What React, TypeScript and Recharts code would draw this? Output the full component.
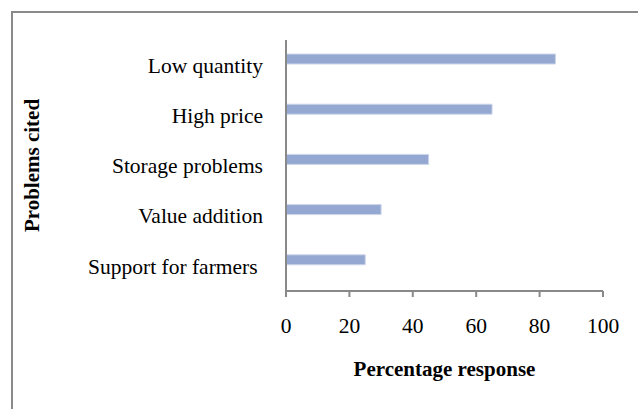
import React from 'react';
import { BarChart, Bar, XAxis, YAxis, Label } from 'recharts';

const categories = ['Low quantity', 'High price', 'Storage problems', 'Value addition', 'Support for farmers '];
const responses = [85, 65, 45, 30, 25];
const xTicks = [0, 20, 40, 60, 80, 100];

const data = categories.map((name, i) => ({ name, response: responses[i], spare: null as number | null }));

const FONT = '"Liberation Serif", "Times New Roman", serif';
const AXIS = '#898989';

export default function App() {
  return (
    <div style={{ position: 'absolute', left: 0, top: 0, width: 638, height: 409, overflow: 'hidden', background: '#fff' }}>
      <div style={{ position: 'absolute', left: 11, top: 11, width: 800, height: 600, border: '2px solid #8a8a8a' }} />
      <div style={{ position: 'absolute', left: 0, top: 0 }}>
        <BarChart
          width={638}
          height={409}
          data={data}
          layout="vertical"
          margin={{ top: 40, right: 35, bottom: 0, left: 0 }}
          barGap={2}
        >
          <XAxis
            type="number"
            domain={[0, 100]}
            ticks={xTicks}
            height={118}
            axisLine={{ stroke: AXIS, strokeWidth: 2 }}
            tickLine={{ stroke: AXIS, strokeWidth: 2 }}
            tickSize={6}
            tickMargin={21}
            tick={{ fill: '#000', fontSize: 21.5, fontFamily: FONT }}
            interval={0}
          >
            <Label
              content={(props: any) => {
                const vb = props.viewBox;
                return (
                  <text
                    x={vb.x + vb.width / 2}
                    y={vb.y + 85}
                    textAnchor="middle"
                    fontFamily={FONT}
                    fontSize={21}
                    fontWeight="bold"
                    fill="#000"
                  >
                    Percentage response
                  </text>
                );
              }}
            />
          </XAxis>
          <YAxis
            type="category"
            dataKey="name"
            width={286}
            axisLine={{ stroke: AXIS, strokeWidth: 2 }}
            tickLine={false}
            tickSize={0}
            tickMargin={23}
            tick={{ fill: '#000', fontSize: 21.5, fontFamily: FONT, style: { whiteSpace: 'pre' } }}
            interval={0}
          >
            <Label
              content={(props: any) => {
                const vb = props.viewBox;
                const cx = 39;
                const cy = vb.y + vb.height / 2;
                return (
                  <text
                    x={cx}
                    y={cy}
                    transform={`rotate(-90 ${cx} ${cy})`}
                    textAnchor="middle"
                    fontFamily={FONT}
                    fontSize={21}
                    fontWeight="bold"
                    fill="#000"
                  >
                    Problems cited
                  </text>
                );
              }}
            />
          </YAxis>
          <Bar dataKey="response" barSize={10} fill="#94A8D2" stroke="#cdd6ea" strokeWidth={1} isAnimationActive={false} />
          <Bar dataKey="spare" barSize={10} fill="#94A8D2" isAnimationActive={false} />
        </BarChart>
      </div>
    </div>
  );
}
